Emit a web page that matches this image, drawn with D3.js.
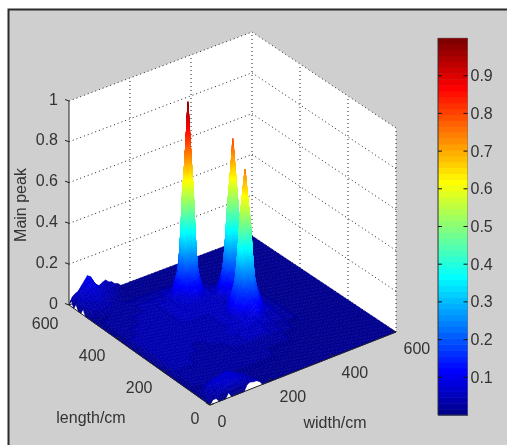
<!DOCTYPE html>
<html><head><meta charset="utf-8">
<script src="https://cdn.jsdelivr.net/npm/d3@7"></script>
<style>html,body{margin:0;padding:0;background:#fff}svg{display:block;filter:blur(.4px)}text{font-family:"Liberation Sans",Arial,sans-serif;font-size:16px;fill:#333}</style>
</head><body><svg id="c" width="507" height="445"></svg>
<script>
const widthTicks=[0,200,400,600], lengthTicks=[0,200,400,600];
const zTicks=[0,0.2,0.4,0.6,0.8,1], zTickLabels=["0","0.2","0.4","0.6","0.8","1"];
const colorbarTicks=[0.1,0.2,0.3,0.4,0.5,0.6,0.7,0.8,0.9];
const xTitle="width/cm", yTitle="length/cm", zTitle="Main peak";

// Peak tables: values, 10 cm apart
const peakOneLengths=[370,380,390,400,410,420,430,440,450,460,470];
const peakOneWidths=[200,210,220,230,240,250,260,270,280,290,300];
const peakOneRows=[
[0,.01,.01,.02,.03,.03,.03,.02,.015,.01,0],
[.01,.015,.03,.05,.08,.09,.07,.05,.03,.02,.01],
[.015,.03,.07,.11,.14,.15,.13,.10,.06,.03,.01],
[.02,.05,.11,.17,.21,.26,.19,.15,.10,.05,.02],
[.03,.08,.14,.2,.58,.72,.56,.21,.13,.07,.03],
[.03,.09,.15,.27,.7,1,.73,.25,.15,.08,.03],
[.03,.07,.13,.19,.56,.7,.58,.2,.14,.08,.02],
[.02,.05,.10,.16,.2,.25,.21,.16,.11,.05,.02],
[.01,.03,.06,.1,.13,.15,.14,.11,.07,.03,.01],
[.01,.02,.03,.05,.07,.09,.08,.05,.03,.015,.01],
[0,.01,.015,.02,.03,.03,.03,.02,.01,.01,0]];
const peakTwoLengths=[310,320,330,340,350,360,370,380,390,400,410];
const peakTwoWidths=[300,310,320,330,340,350,360,370,380,390,400];
const peakTwoRows=[
[.01,.015,.02,.03,.04,.04,.03,.02,.015,.01,0],
[.015,.03,.05,.07,.09,.1,.08,.05,.03,.02,.01],
[.02,.05,.09,.12,.15,.16,.14,.1,.06,.03,.015],
[.03,.07,.12,.17,.22,.27,.21,.15,.09,.05,.02],
[.03,.09,.15,.22,.49,.6,.48,.22,.13,.07,.03],
[.04,.1,.16,.27,.6,.81,.61,.27,.15,.08,.03],
[.03,.08,.14,.21,.48,.58,.49,.22,.13,.07,.02],
[.02,.06,.1,.15,.22,.27,.21,.15,.1,.05,.02],
[.015,.03,.07,.1,.14,.16,.13,.1,.06,.03,.01],
[.01,.02,.04,.05,.08,.09,.07,.05,.03,.02,.01],
[0,.01,.015,.02,.03,.03,.03,.02,.01,.01,0]];
const peakThreeLengths=[220,230,240,250,260,270,280,290,300,310,320];
const peakThreeWidths=[270,280,290,300,310,320,330,340,350,360,370];
const peakThreeRows=[
[.02,.03,.05,.06,.08,.09,.08,.05,.03,.02,.01],
[.03,.05,.09,.12,.14,.15,.13,.1,.06,.03,.015],
[.04,.08,.13,.16,.18,.2,.18,.14,.1,.05,.02],
[.04,.11,.16,.19,.25,.29,.24,.18,.14,.08,.03],
[.05,.12,.17,.24,.48,.6,.49,.24,.16,.1,.03],
[.05,.13,.18,.29,.61,.75,.58,.28,.17,.11,.04],
[.04,.11,.16,.24,.48,.58,.47,.23,.16,.09,.03],
[.03,.09,.14,.18,.24,.28,.23,.17,.13,.07,.02],
[.02,.05,.09,.12,.15,.17,.15,.12,.08,.04,.015],
[.015,.03,.05,.07,.1,.11,.09,.06,.04,.02,.01],
[.01,.015,.02,.03,.04,.05,.04,.03,.02,.01,0]];
// Raised corner near length 600
const cornerLengths=[600,590,580,570,560,550,540,530,520,510,500,490];
const cornerWidths=[0,10,20,30,40,50,60,70,80,90,100,110,120,130,140,150,160];
const cornerRows=[
[0,.03,.04,.05,.07,.09,.11,.1,.06,.03,.04,.05,.055,.04,.035,.02,.015],
[.03,.05,.06,.065,.08,.09,.1,.09,.065,.05,.05,.05,.05,.04,.03,.02,.01],
[0,.05,.06,.07,.08,.085,.09,.08,.065,.05,.05,.045,.04,.035,.025,.015,.01],
[.03,.055,.06,.07,.075,.08,.08,.07,.06,.05,.045,.04,.035,.03,.02,.01,.01],
[0,.05,.055,.06,.07,.07,.07,.06,.055,.045,.04,.035,.03,.02,.015,.01,0],
[0,.045,.05,.055,.06,.06,.06,.055,.05,.04,.035,.03,.025,.015,.01,.01,0],
[.03,.04,.045,.05,.05,.055,.05,.05,.04,.035,.03,.025,.02,.01,.01,0,0],
[0,.035,.04,.04,.045,.045,.045,.04,.035,.03,.025,.02,.015,.01,0,0,0],
[0,.03,.035,.035,.04,.04,.04,.035,.03,.025,.02,.015,.01,0,0,0,0],
[0,.02,.03,.03,.035,.035,.03,.03,.025,.02,.015,.01,.01,0,0,0,0],
[0,.015,.02,.025,.03,.03,.025,.02,.02,.015,.01,.01,0,0,0,0,0],
[0,.01,.015,.02,.02,.02,.02,.015,.015,.01,.01,0,0,0,0,0,0]];
// Raised patch near the origin
const frontLengths=[0,10,20,30,40,50,60,70];
const frontWidths=[0,10,20,30,40,50,60,70,80,90,100,110,120,130,140,150,160,170,180];
const frontRows=[
[0,.02,.02,0,0,0,.025,0,0,0,0,0,.03,.035,.03,.03,.02,0,0],
[0,.03,.04,.04,.05,.05,.06,.06,.06,.06,.06,.05,.05,.05,.04,.03,.02,.01,0],
[0,.03,.04,.06,.06,.07,.07,.07,.075,.075,.07,.06,.06,.05,.04,.03,.02,.01,0],
[0,.03,.05,.06,.07,.07,.075,.08,.08,.08,.075,.065,.06,.05,.035,.02,.01,0,0],
[0,.02,.04,.06,.07,.07,.07,.08,.08,.075,.07,.06,.05,.04,.025,.015,.01,0,0],
[0,.015,.04,.05,.055,.06,.06,.06,.06,.06,.05,.04,.03,.02,.015,.01,0,0,0],
[0,.01,.02,.025,.03,.03,.035,.035,.03,.03,.025,.02,.015,.01,.01,0,0,0,0],
[0,0,.01,.01,.015,.015,.01,.015,.01,.01,.01,.01,0,0,0,0,0,0,0]];
// Faint floor mottling: one value per 40 cm block
const floorLengths=[80,120,160,200,240,280,320,360,400,440,480];
const floorWidths=[10,40,80,120,160,200,240,280,320,360,400];
const floorRows=[
[.02,.02,.02,.02,.02,.02,.02,0,0,0,0],
[.02,.02,.02,.02,.02,.02,.02,.02,.02,0,0],
[.035,.035,.02,.02,.02,.035,.05,.05,.035,.02,0],
[.035,.035,.035,.02,.035,.035,.06,.07,.05,.035,.02],
[.035,.035,.035,.035,.035,.035,.05,.07,.07,.05,.02],
[.035,.035,.035,.035,.035,.035,.05,.05,.06,.05,.02],
[.035,.035,.035,.035,.05,.05,.05,.05,.05,.035,.02],
[.02,.035,.035,.035,.05,.06,.05,.05,.05,.035,.02],
[.02,.02,.035,.035,.05,.06,.05,.05,.035,.02,0],
[.02,.02,.02,.035,.035,.05,.035,.035,.02,0,0],
[0,.02,.02,.02,.02,.02,.02,.02,0,0,0]];

const lengthGrid=d3.range(0,601,10), widthGrid=d3.range(0,601,10);
const heights=lengthGrid.map(()=>widthGrid.map(()=>0));
const stamp=(ls,ws,rows,span=0)=>ls.forEach((l,i)=>ws.forEach((w,j)=>{
  for(let a=l;a<=l+span;a+=10)for(let b=w;b<=w+span;b+=10){
    const li=a/10,wi=b/10;
    if(li<=60&&wi<=60)heights[li][wi]=Math.max(heights[li][wi],rows[i][j]);
  }}));
stamp(floorLengths,floorWidths,floorRows,30);
stamp(cornerLengths,cornerWidths,cornerRows);
stamp(frontLengths,frontWidths,frontRows);
stamp(peakOneLengths,peakOneWidths,peakOneRows);
stamp(peakTwoLengths,peakTwoWidths,peakTwoRows);
stamp(peakThreeLengths,peakThreeWidths,peakThreeRows);

// Oblique 3D view built from linear scales
const wX=d3.scaleLinear([0,600],[210,396]), wY=d3.scaleLinear([0,600],[405,332]);
const lX=d3.scaleLinear([0,600],[0,-141]), lY=d3.scaleLinear([0,600],[0,-100]);
const zY=d3.scaleLinear([0,1],[0,-204]);
const project=(w,l,z=0)=>{const k=(w/600)*(l/600);
  return [wX(w)+lX(l)-3*k, wY(w)+lY(l)+4*k+zY(z)];};

const jet=v=>{const i=Math.min(63,Math.max(0,Math.floor(v*64))),t=(i+1)/64;
  const c=x=>Math.round(255*Math.max(0,Math.min(1,x)));
  return `rgb(${c(Math.min(4*t-1.5,-4*t+4.5))},${c(Math.min(4*t-.5,-4*t+3.5))},${c(Math.min(4*t+.5,-4*t+2.5))})`;};

const svg=d3.select("#c");
svg.append("rect").attr("width",507).attr("height",445).attr("fill","#fff");
svg.append("rect").attr("x",9).attr("y",10).attr("width",498).attr("height",435).attr("fill","#cfcfcf");
svg.append("path").attr("d","M8.5 445V9.5H507").attr("fill","none").attr("stroke","#2b2b2b").attr("stroke-width",2);

const pathOf=pts=>d3.line()(pts)+"Z";
// Walls
svg.append("path").attr("fill","#fff").attr("d",pathOf([project(0,600,1),project(600,600,1),project(600,0,1),project(600,0,0),project(0,0,0),project(0,600,0)]));
const dotted=svg.append("g").attr("fill","none").attr("stroke","#222").attr("stroke-width",1).attr("stroke-dasharray","1 3");
const seg=(g,a,b)=>g.append("path").attr("d",d3.line()([a,b]));
zTicks.forEach(z=>{ seg(dotted,project(0,600,z),project(600,600,z)); seg(dotted,project(600,600,z),project(600,0,z)); });
widthTicks.slice(1).forEach(w=>seg(dotted,project(w,600,0),project(w,600,1)));
lengthTicks.slice(0,3).forEach(l=>seg(dotted,project(600,l,0),project(600,l,1)));

// Surface, painted from the back corner towards the viewer
const cells=[];
for(let li=lengthGrid.length-2;li>=0;li--)for(let wi=widthGrid.length-2;wi>=0;wi--){
  const a=heights[li][wi],b=heights[li][wi+1],c=heights[li+1][wi],d=heights[li+1][wi+1];
  const range=Math.max(a,b,c,d)-Math.min(a,b,c,d);
  const n=Math.min(24,Math.max(1,Math.ceil(range/0.025)));
  const z=(u,v)=>(a*(1-u)+b*u)*(1-v)+(c*(1-u)+d*u)*v;
  for(let i=n-1;i>=0;i--)for(let j=n-1;j>=0;j--){
    const u0=j/n,u1=(j+1)/n,v0=i/n,v1=(i+1)/n;
    const P=(u,v)=>project(widthGrid[wi]+10*u,lengthGrid[li]+10*v,z(u,v));
    cells.push({pts:[P(u0,v0),P(u1,v0),P(u1,v1),P(u0,v1)],v:(z(u0,v0)+z(u1,v0)+z(u1,v1)+z(u0,v1))/4});
  }
}
svg.append("g").attr("stroke-width",.6).attr("stroke-linejoin","round").selectAll("path").data(cells).join("path")
  .attr("d",d=>pathOf(d.pts)).attr("fill",d=>jet(d.v)).attr("stroke",d=>jet(d.v));

// Axes
const solid=svg.append("g").attr("fill","none").attr("stroke","#222").attr("stroke-width",1);
seg(solid,project(0,600,0),project(0,600,1));
seg(solid,project(0,600,0),project(0,0,0));
seg(solid,project(0,0,0),project(600,0,0));
zTicks.forEach(z=>{const p=project(0,600,z);seg(solid,p,[p[0]-4,p[1]-1.5]);});
widthTicks.forEach(w=>{const p=project(w,0,0);seg(solid,p,[p[0]-4,p[1]-2]);});
lengthTicks.forEach(l=>{const p=project(0,l,0);seg(solid,p,[p[0]+4,p[1]-1.5]);});

const label=(x,y,t,anchor)=>svg.append("text").attr("x",x).attr("y",y+5.5).attr("text-anchor",anchor).text(t);
zTicks.forEach((z,i)=>{const p=project(0,600,z);label(p[0]-11,p[1]-2,zTickLabels[i],"end");});
const lDy=d3.scaleLinear([0,200,600],[13,16,18]);
lengthTicks.forEach(l=>{const p=project(0,l,0);label(p[0]-10.5,p[1]+lDy(l),String(l),"end");});
widthTicks.forEach(w=>{const p=project(w,0,0);label(p[0]+7.5,p[1]+16,String(w),"start");});
label(335,422,xTitle,"middle");
label(91,417,yTitle,"middle");
svg.append("text").attr("transform","translate(25.5,205) rotate(-90)").attr("text-anchor","middle").text(zTitle);

// Colorbar
const cbY=d3.scaleLinear([0,1],[415,38]);
const levels=d3.range(64);
svg.append("g").selectAll("rect").data(levels).join("rect")
  .attr("x",438).attr("width",30)
  .attr("y",i=>cbY((i+1)/64)).attr("height",i=>cbY(i/64)-cbY((i+1)/64)+.5)
  .attr("fill",i=>jet((i+.5)/64));
svg.append("path").attr("d",`M438 38V415H468`).attr("fill","none").attr("stroke","#333").attr("stroke-width",1);
svg.append("path").attr("d",`M438 38H467.5V415`).attr("fill","none").attr("stroke","#777").attr("stroke-width",.7).attr("opacity",.7);
colorbarTicks.forEach(v=>{const y=cbY(v);
  svg.append("path").attr("d",`M438 ${y}h4M467.5 ${y}h-4`).attr("stroke","#111").attr("fill","none");
  svg.append("text").attr("x",470.5).attr("y",y+5.5).text(String(v));
});
</script></body></html>
